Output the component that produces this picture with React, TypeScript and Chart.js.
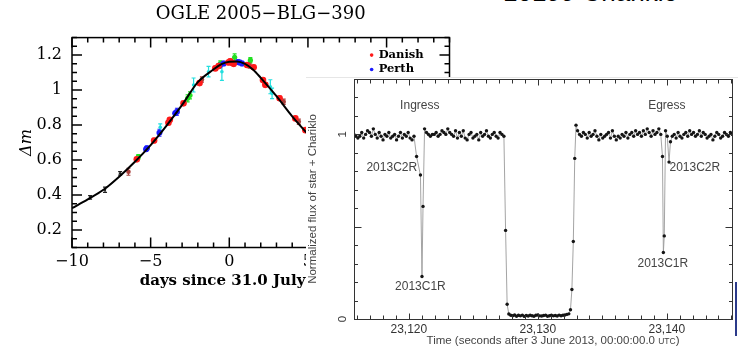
import React, { useEffect, useRef } from "react";
import { Chart, registerables } from "chart.js";

Chart.register(...registerables);

const SERIF = "'DejaVu Serif', serif";
const SANS = "'Liberation Sans', Arial, sans-serif";

// ---------------- Left panel: OGLE 2005-BLG-390 ----------------
const lensTitle = "OGLE 2005−BLG−390";
const lensXTitle = "days since 31.0 July 2005 UT";
const lensYTitle = "Δm";
const legendNames = ["Danish", "Perth"];

const curveDays = [-10, -9, -8, -7, -6, -5, -4, -3, -2, -1, -0.5, 0, 0.5, 1, 1.5, 2, 3, 4, 5, 6];
const curveMag = [0.325, 0.375, 0.43, 0.505, 0.59, 0.685, 0.795, 0.915, 1.045, 1.118, 1.148, 1.162, 1.164, 1.15, 1.118, 1.07, 0.965, 0.85, 0.748, 0.655];

const danishDays = [-5.88, -4.78, -3.87, -3.78, -2.91, -1.89, -0.89, -0.68, -0.05, 0.06, 0.2, 0.28, 1.13, 1.55, 2.14, 2.29, 3.2, 4.2, 4.84];
const danishMag = [0.604, 0.712, 0.813, 0.83, 0.924, 1.04, 1.124, 1.137, 1.158, 1.165, 1.155, 1.15, 1.143, 1.13, 1.057, 1.03, 0.953, 0.838, 0.771];
const danishErr = [0.012, 0.012, 0.01, 0.012, 0.012, 0.012, 0.012, 0.012, 0.012, 0.012, 0.012, 0.012, 0.012, 0.012, 0.012, 0.012, 0.012, 0.012, 0.012];

const perthDays = [-5.29, -5.24, -4.44, -3.44, -3.33, -0.6, -0.36, 0.55, 0.66, 0.81];
const perthMag = [0.661, 0.668, 0.756, 0.867, 0.876, 1.14, 1.152, 1.16, 1.158, 1.152];
const perthErr = [0.012, 0.012, 0.02, 0.012, 0.02, 0.012, 0.012, 0.012, 0.012, 0.012];

const greenDays = [-5.78, -2.65, -2.5, -0.57, 0.34, 1.34];
const greenMag = [0.619, 0.953, 0.97, 1.152, 1.187, 1.171];
const greenErr = [0.012, 0.02, 0.02, 0.015, 0.02, 0.015];

const cyanDays = [-4.39, -2.27, -1.32, -0.47, 2.61, 2.72];
const cyanMag = [0.787, 1.029, 1.105, 1.105, 1.019, 0.981];
const cyanErr = [0.02, 0.04, 0.03, 0.05, 0.04, 0.03];

const brownDays = [-6.41, -1.74, 1.3, 3.46, 4.42];
const brownMag = [0.533, 1.061, 1.14, 0.933, 0.819];
const brownErr = [0.02, 0.015, 0.015, 0.015, 0.015];

const blackDays = [-8.85, -7.9, -6.94];
const blackMag = [0.387, 0.43, 0.524];
const blackErr = [0.01, 0.015, 0.01];

// ---------------- Right panel: Chariklo occultation ----------------
const occXTitleMain = "Time (seconds after 3 June 2013, 00:00:00.0 ";
const occXTitleSmall = "UTC";
const occXTitleEnd = ")";
const occYTitle = "Normalized flux of star + Chariklo";
const topCaption = "10199 Chariklo";

const plateauStep = 0.15;
const plateauAStart = 23115.75;
const plateauAFlux = [1.0, 0.99, 0.98, 0.99, 1.01, 0.98, 1.0, 1.02, 1.01, 0.99, 1.03, 1.0, 0.98, 1.01, 0.99, 0.97, 1.0, 0.99, 1.01, 0.98, 0.99, 1.0, 0.97, 0.99, 1.01, 0.98, 1.0, 0.99, 1.01, 0.98, 0.97, 0.99];
const ringInTimes = [23120.6, 23120.9, 23121.02, 23121.1, 23121.22];
const ringInFlux = [0.88, 0.78, 0.23, 0.61, 1.03];
const plateauBStart = 23121.37;
const plateauBFlux = [1.01, 1.0, 0.99, 1.0, 1.0, 1.01, 0.99, 1.0, 1.02, 1.01, 1.0, 1.03, 1.01, 1.0, 0.99, 1.02, 0.98, 1.01, 0.99, 1.02, 0.98, 0.97, 1.0, 1.01, 0.98, 0.99, 1.0, 0.97, 1.01, 0.99, 1.0, 1.02, 0.99, 0.98, 1.0, 1.01, 0.99, 0.98, 1.01, 1.0, 0.99];
const bodyInTimes = [23127.5, 23127.62, 23127.75];
const bodyInFlux = [0.48, 0.08, 0.027];
const bottomStart = 23127.9;
const bottomFlux = [0.02, 0.018, 0.022, 0.015, 0.02, 0.017, 0.021, 0.014, 0.019, 0.016, 0.02, 0.018, 0.015, 0.02, 0.022, 0.017, 0.016, 0.019, 0.021, 0.015, 0.018, 0.02, 0.017, 0.019, 0.016, 0.021, 0.018, 0.02, 0.022, 0.025, 0.028];
const bodyOutTimes = [23132.53, 23132.64, 23132.75, 23132.86, 23132.96];
const bodyOutFlux = [0.05, 0.16, 0.42, 0.87, 1.05];
const plateauCStart = 23133.08;
const plateauCFlux = [1.02, 1.0, 0.99, 1.01, 1.0, 0.98, 1.01, 0.99, 1.0, 1.02, 0.99, 0.97, 1.0, 0.98, 0.99, 1.0, 1.01, 0.98, 1.02, 0.99, 0.97, 0.99, 0.98, 1.0, 0.99, 1.01, 0.98, 1.0, 1.01, 0.99, 1.02, 1.0, 1.01, 0.99, 1.02, 1.0, 1.03, 1.01, 0.99, 1.02, 1.0, 1.01, 1.03, 1.0];
const ringOutTimes = [23139.66, 23139.73, 23139.8, 23139.9, 23140.03, 23140.17, 23140.28];
const ringOutFlux = [0.88, 0.36, 0.45, 1.02, 0.99, 0.85, 0.96];
const plateauDStart = 23140.42;
const plateauDFlux = [0.99, 1.0, 0.98, 1.01, 0.99, 0.98, 1.0, 1.01, 0.99, 1.02, 1.0, 1.01, 0.99, 1.0, 1.02, 0.99, 1.01, 1.0, 0.98, 0.99, 1.0, 0.97, 0.99, 1.01, 1.0, 0.98, 0.99, 1.01, 1.0, 0.99, 1.01, 1.0];

const noteTexts = ["Ingress", "Egress", "2013C2R", "2013C1R", "2013C2R", "2013C1R"];
const noteTimes = [23120.85, 23140.0, 23118.68, 23120.9, 23142.17, 23139.69];
const noteFlux = [1.158, 1.158, 0.82, 0.174, 0.82, 0.3];

// ---------------- helpers ----------------
type TickSpec = { step: number; isMajor: (v: number) => boolean; major: number; minor: number };

function near(v: number, m: number) {
  return Math.abs(v / m - Math.round(v / m)) < 1e-6;
}

function drawFrame(chart: any, color: string, lw: number, xs: TickSpec, ys: TickSpec, crisp: boolean) {
  const ctx = chart.ctx;
  const a = chart.chartArea;
  const sx = chart.scales.x;
  const sy = chart.scales.y;
  const al = (v: number) => (crisp ? Math.round(v) + 0.5 : v);
  const L = al(a.left);
  const R = al(a.right);
  const T = al(a.top);
  const B = al(a.bottom);
  ctx.save();
  ctx.globalAlpha = 1;
  ctx.setLineDash([]);
  ctx.strokeStyle = color;
  ctx.lineWidth = lw;
  ctx.beginPath();
  const kx0 = Math.ceil(sx.min / xs.step - 1e-9);
  const kx1 = Math.floor(sx.max / xs.step + 1e-9);
  for (let k = kx0; k <= kx1; k++) {
    const v = k * xs.step;
    const px = al(sx.getPixelForValue(v));
    const len = xs.isMajor(v) ? xs.major : xs.minor;
    ctx.moveTo(px, B);
    ctx.lineTo(px, B - len);
    ctx.moveTo(px, T);
    ctx.lineTo(px, T + len);
  }
  const ky0 = Math.ceil(sy.min / ys.step - 1e-9);
  const ky1 = Math.floor(sy.max / ys.step + 1e-9);
  for (let k = ky0; k <= ky1; k++) {
    const v = k * ys.step;
    const py = al(sy.getPixelForValue(v));
    const len = ys.isMajor(v) ? ys.major : ys.minor;
    ctx.moveTo(L, py);
    ctx.lineTo(L + len, py);
    ctx.moveTo(R, py);
    ctx.lineTo(R - len, py);
  }
  ctx.stroke();
  ctx.strokeRect(L, T, R - L, B - T);
  ctx.restore();
}

function zeroPad(s: any) {
  s.paddingTop = 0;
  s.paddingBottom = 0;
  s.paddingLeft = 0;
  s.paddingRight = 0;
}

// ---------------- Left chart ----------------
function LensChart() {
  const ref = useRef<HTMLCanvasElement>(null);
  useEffect(() => {
    const groups = [
      { days: danishDays, mag: danishMag, err: danishErr, color: "#ff1a1a", r: 3.3 },
      { days: perthDays, mag: perthMag, err: perthErr, color: "#1a1aff", r: 3 },
      { days: greenDays, mag: greenMag, err: greenErr, color: "#22e022", r: 2.6 },
      { days: cyanDays, mag: cyanMag, err: cyanErr, color: "#22dede", r: 1.8 },
      { days: brownDays, mag: brownMag, err: brownErr, color: "#a8403c", r: 2.3 },
      { days: blackDays, mag: blackMag, err: blackErr, color: "#222222", r: 1.2 },
    ];
    const legendColors = ["#ff1a1a", "#1a1aff"];

    const lensPlugin = {
      id: "lensExtras",
      beforeDatasetsDraw(chart: any) {
        const { ctx, chartArea: a, scales } = chart;
        ctx.save();
        ctx.beginPath();
        ctx.rect(a.left, a.top, a.width, a.height);
        ctx.clip();
        ctx.lineWidth = 1.2;
        groups.forEach((g) => {
          ctx.strokeStyle = g.color;
          ctx.beginPath();
          g.days.forEach((d, i) => {
            const x = scales.x.getPixelForValue(d);
            const y1 = scales.y.getPixelForValue(g.mag[i] + g.err[i]);
            const y2 = scales.y.getPixelForValue(g.mag[i] - g.err[i]);
            ctx.moveTo(x, y1);
            ctx.lineTo(x, y2);
            ctx.moveTo(x - 2, y1);
            ctx.lineTo(x + 2, y1);
            ctx.moveTo(x - 2, y2);
            ctx.lineTo(x + 2, y2);
          });
          ctx.stroke();
        });
        ctx.restore();
      },
      afterDraw(chart: any) {
        drawFrame(
          chart,
          "#000",
          1.5,
          { step: 1, isMajor: (v) => near(v, 5), major: 10, minor: 5 },
          { step: 0.05, isMajor: (v) => near(v, 0.2), major: 10, minor: 5 },
          false
        );
        const { ctx, scales } = chart;
        const x = scales.x.getPixelForValue(9.05);
        const y = scales.y.getPixelForValue(1.2);
        ctx.save();
        ctx.font = `bold 11.5px ${SERIF}`;
        ctx.textBaseline = "middle";
        ctx.textAlign = "left";
        legendNames.forEach((n, i) => {
          const yy = y + i * 14.4;
          ctx.fillStyle = legendColors[i];
          ctx.beginPath();
          ctx.arc(x, yy, 1.8, 0, Math.PI * 2);
          ctx.fill();
          ctx.fillStyle = "#000";
          ctx.fillText(n, x + 7, yy);
        });
        ctx.restore();
      },
    };

    const chart = new Chart(ref.current as HTMLCanvasElement, {
      type: "scatter",
      data: {
        datasets: [
          {
            data: curveDays.map((d, i) => ({ x: d, y: curveMag[i] })),
            showLine: true,
            borderColor: "#000",
            borderWidth: 2,
            pointRadius: 0,
            cubicInterpolationMode: "monotone",
          } as any,
          ...groups.map((g) => ({
            data: g.days.map((d, i) => ({ x: d, y: g.mag[i] })),
            backgroundColor: g.color,
            borderColor: g.color,
            pointRadius: g.r,
            pointBorderWidth: 0,
            showLine: false,
          })),
        ],
      },
      options: {
        animation: false,
        responsive: false,
        devicePixelRatio: 1,
        layout: { padding: { top: 0, left: 0, right: 20.5, bottom: 0 } },
        plugins: {
          legend: { display: false },
          tooltip: { enabled: false },
          title: {
            display: true,
            fullSize: false,
            text: lensTitle,
            color: "#000",
            font: { family: SERIF, size: 18, weight: "normal" },
            padding: { top: 4, bottom: 12 },
          },
        },
        scales: {
          x: {
            type: "linear",
            min: -10,
            max: 14,
            afterFit: (s: any) => {
              s.height = 52.5;
              zeroPad(s);
            },
            grid: { display: false, drawTicks: false },
            border: { display: false },
            ticks: {
              stepSize: 1,
              autoSkip: false,
              maxRotation: 0,
              padding: 5,
              color: "#000",
              font: { family: SERIF, size: 16 },
              callback: (v: any) => (near(Number(v), 5) ? (Number(v) < 0 ? "−" + Math.abs(Number(v)) : String(Number(v))) : ""),
            },
            title: {
              display: true,
              text: lensXTitle,
              color: "#000",
              font: { family: SERIF, size: 15, weight: "bold" },
              padding: { top: 0, bottom: 10 },
            },
          },
          y: {
            type: "linear",
            min: 0.1,
            max: 1.3,
            afterFit: (s: any) => {
              s.width = 72;
              zeroPad(s);
            },
            grid: { display: false, drawTicks: false },
            border: { display: false },
            ticks: {
              stepSize: 0.05,
              autoSkip: false,
              padding: 10,
              color: "#000",
              font: { family: SERIF, size: 16 },
              callback: (v: any) => (near(Number(v), 0.2) ? String(Math.round(Number(v) * 10) / 10) : ""),
            },
            title: {
              display: true,
              text: lensYTitle,
              color: "#000",
              font: { family: SERIF, size: 16, style: "italic" },
              padding: { top: 17.4, bottom: 0 },
            },
          },
        },
      } as any,
      plugins: [lensPlugin],
    });
    return () => chart.destroy();
  }, []);
  return <canvas ref={ref} width={470} height={300} style={{ position: "absolute", left: 0, top: 0 }} />;
}

// ---------------- Right chart ----------------
function segment(start: number, flux: number[]) {
  return flux.map((f, i) => ({ x: start + i * plateauStep, y: f }));
}
function pairs(times: number[], flux: number[]) {
  return times.map((t, i) => ({ x: t, y: flux[i] }));
}

function OccultationChart() {
  const ref = useRef<HTMLCanvasElement>(null);
  useEffect(() => {
    const points = [
      ...segment(plateauAStart, plateauAFlux),
      ...pairs(ringInTimes, ringInFlux),
      ...segment(plateauBStart, plateauBFlux),
      ...pairs(bodyInTimes, bodyInFlux),
      ...segment(bottomStart, bottomFlux),
      ...pairs(bodyOutTimes, bodyOutFlux),
      ...segment(plateauCStart, plateauCFlux),
      ...pairs(ringOutTimes, ringOutFlux),
      ...segment(plateauDStart, plateauDFlux),
    ];

    const occPlugin = {
      id: "occExtras",
      afterDraw(chart: any) {
        drawFrame(
          chart,
          "#333",
          1,
          { step: 1, isMajor: (v) => near(v, 10), major: 6, minor: 4 },
          { step: 0.1, isMajor: (v) => near(v, 0.5), major: 7, minor: 3.5 },
          true
        );
        const { ctx, scales, chartArea: a } = chart;
        ctx.save();
        ctx.fillStyle = "#444";
        ctx.textAlign = "center";
        ctx.textBaseline = "middle";
        ctx.font = `12px ${SANS}`;
        noteTexts.forEach((t, i) => {
          ctx.fillText(t, scales.x.getPixelForValue(noteTimes[i]), scales.y.getPixelForValue(noteFlux[i]));
        });
        const big = `11.5px ${SANS}`;
        const small = `8.5px ${SANS}`;
        ctx.font = big;
        const w1 = ctx.measureText(occXTitleMain).width;
        const w3 = ctx.measureText(occXTitleEnd).width;
        ctx.font = small;
        const w2 = ctx.measureText(occXTitleSmall).width;
        const total = w1 + w2 + w3;
        let x = (a.left + a.right) / 2 + 10 - total / 2;
        const base = a.bottom + 25;
        ctx.textAlign = "left";
        ctx.textBaseline = "alphabetic";
        ctx.font = big;
        ctx.fillText(occXTitleMain, x, base);
        x += w1;
        ctx.font = small;
        ctx.fillText(occXTitleSmall, x, base);
        x += w2;
        ctx.font = big;
        ctx.fillText(occXTitleEnd, x, base);
        ctx.restore();
      },
    };

    const chart = new Chart(ref.current as HTMLCanvasElement, {
      type: "scatter",
      data: {
        datasets: [
          {
            data: points,
            showLine: true,
            borderColor: "#9a9a9a",
            borderWidth: 0.9,
            pointRadius: 1.7,
            pointBackgroundColor: "#151515",
            pointBorderWidth: 0,
          },
        ],
      },
      options: {
        animation: false,
        responsive: false,
        devicePixelRatio: 1,
        layout: { padding: { top: 2, left: 0, right: 6, bottom: 0 } },
        plugins: { legend: { display: false }, tooltip: { enabled: false } },
        scales: {
          x: {
            type: "linear",
            min: 23115.75,
            max: 23145.05,
            afterFit: (s: any) => {
              s.height = 31;
              zeroPad(s);
            },
            grid: { display: false, drawTicks: false },
            border: { display: false },
            ticks: {
              stepSize: 1,
              autoSkip: false,
              maxRotation: 0,
              padding: 3,
              color: "#333",
              font: { family: SANS, size: 12 },
              callback: (v: any) => (near(Number(v), 10) ? Number(v).toLocaleString("en-US") : ""),
            },
          },
          y: {
            type: "linear",
            min: 0,
            max: 1.3,
            afterFit: (s: any) => {
              s.width = 48;
              zeroPad(s);
            },
            grid: { display: false, drawTicks: false },
            border: { display: false },
            ticks: {
              stepSize: 0.1,
              autoSkip: false,
              minRotation: 90,
              maxRotation: 90,
              crossAlign: "center",
              padding: 8,
              color: "#333",
              font: { family: SANS, size: 11.5 },
              callback: (v: any) => (Math.abs(Number(v) - 1) < 1e-6 ? "1" : Math.abs(Number(v)) < 1e-6 ? "0" : ""),
            },
            title: {
              display: true,
              text: occYTitle,
              color: "#444",
              font: { family: SANS, size: 11.5 },
              padding: { top: 0, bottom: 0 },
            },
          },
        },
      } as any,
      plugins: [occPlugin],
    });
    return () => chart.destroy();
  }, []);
  return <canvas ref={ref} width={432} height={275} style={{ position: "absolute", left: 0, top: -3 }} />;
}

export default function App() {
  return (
    <div
      style={{
        position: "fixed",
        left: 0,
        top: 0,
        width: 738,
        height: 350,
        overflow: "hidden",
        background: "#fff",
      }}
    >
      <LensChart />
      <div
        style={{
          position: "absolute",
          left: 503,
          top: -22,
          fontFamily: SANS,
          fontSize: 26,
          lineHeight: "28px",
          color: "#000",
          whiteSpace: "nowrap",
        }}
      >
        {topCaption}
      </div>
      <div
        style={{
          position: "absolute",
          left: 306,
          top: 77,
          width: 432,
          height: 272,
          background: "#fff",
          borderTop: "1px solid #e6e6e6",
        }}
      >
        <OccultationChart />
      </div>
      <div style={{ position: "absolute", left: 735, top: 282, width: 2, height: 54, background: "#2b3a8a" }} />
    </div>
  );
}
